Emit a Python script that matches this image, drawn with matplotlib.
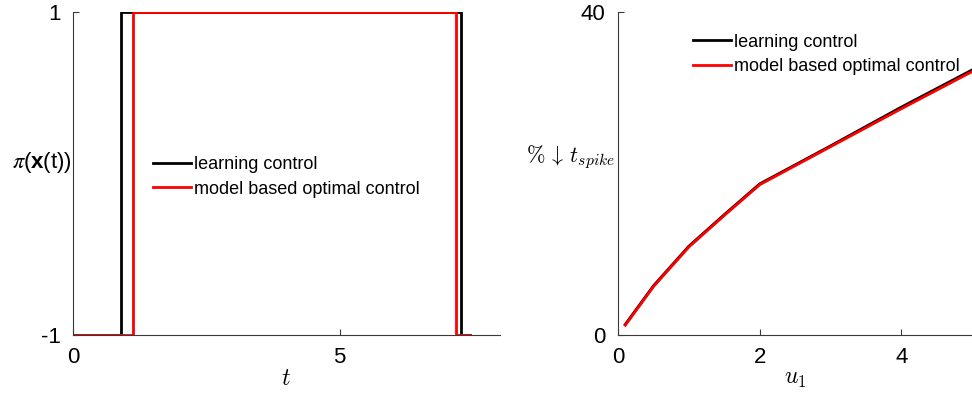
import numpy as np
import matplotlib
matplotlib.use("Agg")
import matplotlib.pyplot as plt

plt.rcParams['font.family'] = ['Liberation Sans', 'DejaVu Sans']
plt.rcParams['mathtext.fontset'] = 'custom'
plt.rcParams['mathtext.rm'] = 'Liberation Sans'
plt.rcParams['mathtext.bf'] = 'Liberation Sans:bold'
plt.rcParams['mathtext.it'] = 'STIXGeneral:italic'

# left panel: switching instants of the bang-bang control
t_learn = [0.0, 0.9, 0.9, 7.28, 7.28, 7.45]
pi_learn = [-1, -1, 1, 1, -1, -1]
t_model = [0.0, 1.12, 1.12, 7.18, 7.18, 7.45]
pi_model = [-1, -1, 1, 1, -1, -1]

# right panel: % reduction of spike time vs u1
u1 = [0.1, 0.5, 1.0, 1.5, 2.0, 3.0, 4.0, 5.0]
red_learn = [1.3, 6.1, 11.0, 14.9, 18.7, 23.4, 28.2, 32.8]
red_model = [1.2, 6.0, 10.9, 14.8, 18.6, 23.3, 28.0, 32.6]

spine_col = '#3a3a3a'
lw = 2.0

fig = plt.figure(figsize=(9.72, 3.95), dpi=100)
ax1 = fig.add_axes([0.075, 0.152, 0.439, 0.818])
ax2 = fig.add_axes([0.636, 0.152, 0.364, 0.818])

ax1.plot(t_learn, pi_learn, color='black', lw=lw, label='learning control')
ax1.plot(t_model, pi_model, color='red', lw=lw, label='model based optimal control')
ax1.set_xlim(0, 8)
ax1.set_ylim(-1, 1)
ax1.set_xticks([0, 5])
ax1.set_yticks([-1, 1])
ax1.set_yticklabels(['-1', '1'])
ax1.set_xlabel(r'$t$', fontsize=17, labelpad=0, math_fontfamily='cm')
ax1.set_ylabel(r'$\pi$(' + r'$\mathbf{x}$' + '(t))', fontsize=16, rotation=0, ha='right', va='center')
ax1.yaxis.set_label_coords(-0.002, 0.535)
ax1.legend(loc='upper left', bbox_to_anchor=(0.17, 0.575), frameon=False, fontsize=13,
           handlelength=2.1, handletextpad=0.2, labelspacing=0.4, borderaxespad=0)

ax2.plot(u1, red_learn, color='black', lw=lw, label='learning control')
ax2.plot(u1, red_model, color='red', lw=lw, label='model based optimal control')
ax2.set_xlim(0, 5)
ax2.set_ylim(0, 40)
ax2.set_xticks([0, 2, 4])
ax2.set_yticks([0, 40])
ax2.set_xlabel(r'$u_1$', fontsize=17, labelpad=0, math_fontfamily='cm')
ax2.set_ylabel(r'$\%\,\downarrow\,t_{spike}$', fontsize=16, rotation=0, ha='right',
               va='center', math_fontfamily='cm')
ax2.yaxis.set_label_coords(-0.01, 0.55)
ax2.legend(loc='upper left', bbox_to_anchor=(0.19, 0.955), frameon=False, fontsize=13,
           handlelength=2.1, handletextpad=0.2, labelspacing=0.4, borderaxespad=0)

for ax in (ax1, ax2):
    ax.spines['top'].set_visible(False)
    ax.spines['right'].set_visible(False)
    for s in ('left', 'bottom'):
        ax.spines[s].set_color(spine_col)
        ax.spines[s].set_linewidth(0.8)
    ax.tick_params(direction='in', length=4, width=0.8, color=spine_col, labelsize=16)
    ax.tick_params(axis='x', pad=9)
    ax.tick_params(axis='y', pad=9)

fig.savefig('out.png', dpi=100)
